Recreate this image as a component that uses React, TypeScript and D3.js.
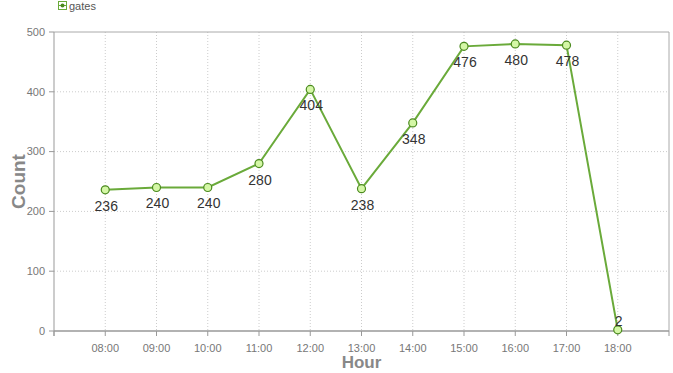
import React from "react";
import * as d3 from "d3";

const hours = ["08:00", "09:00", "10:00", "11:00", "12:00", "13:00", "14:00", "15:00", "16:00", "17:00", "18:00"];
const gates = [236, 240, 240, 280, 404, 238, 348, 476, 480, 478, 2];
const yTicks = [0, 100, 200, 300, 400, 500];
const seriesName = "gates";

const W = 673, H = 373;
const left = 54, right = 669, top = 32, bottom = 331;

export default function App() {
  const x = d3.scalePoint<string>().domain(hours).range([left, right]).padding(1);
  const y = d3.scaleLinear().domain([0, 500]).range([bottom, top]);
  const line = d3.line<number>().x((_, i) => x(hours[i])!).y((d) => y(d));
  const font = "'Liberation Sans', Arial, sans-serif";
  const edgeTicks = [left, ...hours.map((h) => x(h)!), right];
  return (
    <svg width={W} height={H} style={{ position: "absolute", left: 0, top: 0 }} fontFamily={font}>
      <rect x={0} y={0} width={W} height={H} fill="#fff" />
      {yTicks.filter((t) => t > 0 && t < 500).map((t) => (
        <line key={"gy" + t} x1={left} x2={right} y1={y(t)} y2={y(t)} stroke="#ccc" strokeDasharray="1,2" />
      ))}
      {hours.map((h) => (
        <line key={"gx" + h} x1={x(h)} x2={x(h)} y1={top} y2={bottom} stroke="#ccc" strokeDasharray="1,2" />
      ))}
      <line x1={left} x2={right} y1={top} y2={top} stroke="#aaa" />
      <line x1={right} x2={right} y1={top} y2={bottom} stroke="#aaa" />
      <line x1={left} x2={left} y1={top} y2={bottom + 5} stroke="#999" />
      <line x1={left} x2={right} y1={bottom} y2={bottom} stroke="#999" strokeWidth={1.5} />
      {yTicks.map((t) => (
        <g key={"yt" + t}>
          <line x1={left - 5} x2={left} y1={y(t)} y2={y(t)} stroke="#999" />
          <text x={left - 9} y={y(t)} dy="0.35em" textAnchor="end" fontSize={11} fill="#777">{t}</text>
        </g>
      ))}
      {edgeTicks.map((px, i) => (
        <line key={"xt" + i} x1={px} x2={px} y1={bottom} y2={bottom + 5} stroke="#999" />
      ))}
      {hours.map((h) => (
        <text key={"xl" + h} x={x(h)} y={352} textAnchor="middle" fontSize={11} fill="#777">{h}</text>
      ))}
      <text transform={`translate(18,${(top + bottom) / 2}) rotate(-90)`} textAnchor="middle" fontSize={19} fontWeight="bold" fill="#888" dy="0.35em">Count</text>
      <text x={(left + right) / 2} y={368} textAnchor="middle" fontSize={17} fontWeight="bold" fill="#888">Hour</text>
      <rect x={58.5} y={1.5} width={8} height={8} fill="#fff" stroke="#6aaa3a" />
      <line x1={59} x2={66} y1={5.5} y2={5.5} stroke="#6aaa3a" />
      <circle cx={62.5} cy={5.5} r={2} fill="#4b8a1f" />
      <text x={69} y={10} fontSize={11} fill="#555">{seriesName}</text>
      <path d={line(gates)!} fill="none" stroke="#6aaa3a" strokeWidth={2} />
      {gates.map((v, i) => (
        <circle key={"p" + i} cx={x(hours[i])} cy={y(v)} r={4} fill="#d4f7a6" stroke="#4b8a1f" strokeWidth={1.2} />
      ))}
      {gates.map((v, i) => {
        const below = y(v) + 20 < bottom;
        return (
          <text key={"l" + i} x={x(hours[i])! + 1} y={below ? y(v) + 21 : y(v) - 4} textAnchor="middle" fontSize={14} fill="#333">{v}</text>
        );
      })}
    </svg>
  );
}
